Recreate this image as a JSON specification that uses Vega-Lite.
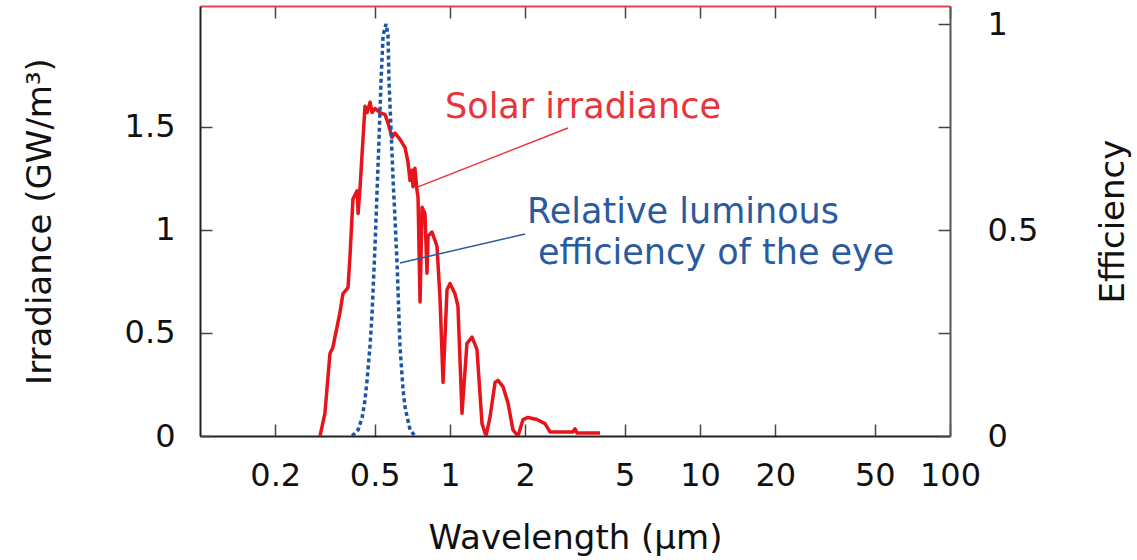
{
  "$schema": "https://vega.github.io/schema/vega-lite/v6.json",
  "width": 750,
  "height": 430,
  "autosize": "none",
  "padding": {"left": 200, "top": 6, "right": 187, "bottom": 124},
  "background": "white",
  "config": {"view": {"stroke": null}, "font": "DejaVu Sans"},
  "datasets": {
    "solar": [
      {"wl": 0.302, "irr": 0}, {"wl": 0.316, "irr": 0.11}, {"wl": 0.331, "irr": 0.40}, {"wl": 0.340, "irr": 0.43},
      {"wl": 0.363, "irr": 0.60}, {"wl": 0.373, "irr": 0.69}, {"wl": 0.391, "irr": 0.72}, {"wl": 0.398, "irr": 0.87},
      {"wl": 0.409, "irr": 1.15}, {"wl": 0.425, "irr": 1.19}, {"wl": 0.429, "irr": 1.08}, {"wl": 0.437, "irr": 1.21},
      {"wl": 0.445, "irr": 1.37}, {"wl": 0.457, "irr": 1.60}, {"wl": 0.466, "irr": 1.57}, {"wl": 0.479, "irr": 1.62},
      {"wl": 0.488, "irr": 1.57}, {"wl": 0.501, "irr": 1.59}, {"wl": 0.525, "irr": 1.57}, {"wl": 0.550, "irr": 1.56},
      {"wl": 0.565, "irr": 1.52}, {"wl": 0.586, "irr": 1.45}, {"wl": 0.603, "irr": 1.47}, {"wl": 0.631, "irr": 1.44},
      {"wl": 0.661, "irr": 1.40}, {"wl": 0.679, "irr": 1.33}, {"wl": 0.692, "irr": 1.24}, {"wl": 0.705, "irr": 1.29},
      {"wl": 0.711, "irr": 1.21}, {"wl": 0.724, "irr": 1.30}, {"wl": 0.738, "irr": 1.19}, {"wl": 0.745, "irr": 1.16},
      {"wl": 0.759, "irr": 0.65}, {"wl": 0.773, "irr": 1.11}, {"wl": 0.794, "irr": 1.08}, {"wl": 0.809, "irr": 0.79},
      {"wl": 0.817, "irr": 0.97}, {"wl": 0.847, "irr": 0.99}, {"wl": 0.871, "irr": 0.95}, {"wl": 0.887, "irr": 0.92},
      {"wl": 0.912, "irr": 0.67}, {"wl": 0.938, "irr": 0.26}, {"wl": 0.973, "irr": 0.71}, {"wl": 1.0, "irr": 0.74},
      {"wl": 1.047, "irr": 0.69}, {"wl": 1.076, "irr": 0.63}, {"wl": 1.117, "irr": 0.11}, {"wl": 1.169, "irr": 0.45},
      {"wl": 1.225, "irr": 0.48}, {"wl": 1.282, "irr": 0.42}, {"wl": 1.343, "irr": 0.06}, {"wl": 1.393, "irr": 0},
      {"wl": 1.445, "irr": 0.09}, {"wl": 1.514, "irr": 0.26}, {"wl": 1.556, "irr": 0.27}, {"wl": 1.629, "irr": 0.24},
      {"wl": 1.706, "irr": 0.16}, {"wl": 1.786, "irr": 0.03}, {"wl": 1.871, "irr": 0}, {"wl": 1.959, "irr": 0.08},
      {"wl": 2.051, "irr": 0.09}, {"wl": 2.228, "irr": 0.08}, {"wl": 2.399, "irr": 0.06}, {"wl": 2.512, "irr": 0.02},
      {"wl": 3.105, "irr": 0.02}, {"wl": 3.162, "irr": 0.035}, {"wl": 3.22, "irr": 0.015}, {"wl": 3.98, "irr": 0.015}
    ],
    "eye": [
      {"wl": 0.406, "eff": 0}, {"wl": 0.429, "eff": 0.015}, {"wl": 0.445, "eff": 0.044}, {"wl": 0.457, "eff": 0.087},
      {"wl": 0.466, "eff": 0.136}, {"wl": 0.479, "eff": 0.221}, {"wl": 0.488, "eff": 0.299}, {"wl": 0.501, "eff": 0.459},
      {"wl": 0.511, "eff": 0.597}, {"wl": 0.520, "eff": 0.718}, {"wl": 0.530, "eff": 0.864}, {"wl": 0.540, "eff": 0.973},
      {"wl": 0.555, "eff": 1.0}, {"wl": 0.565, "eff": 0.973}, {"wl": 0.570, "eff": 0.864}, {"wl": 0.581, "eff": 0.743},
      {"wl": 0.592, "eff": 0.621}, {"wl": 0.603, "eff": 0.524}, {"wl": 0.614, "eff": 0.42}, {"wl": 0.631, "eff": 0.216},
      {"wl": 0.649, "eff": 0.112}, {"wl": 0.661, "eff": 0.07}, {"wl": 0.692, "eff": 0.015}, {"wl": 0.724, "eff": 0}
    ],
    "leaders": [
      {"series": "solar", "wl": 2.965, "irr": 1.495, "wl2": 0.745, "irr2": 1.209},
      {"series": "eye", "wl": 1.995, "irr": 0.98, "wl2": 0.631, "irr2": 0.84}
    ],
    "labels": [
      {"series": "solar", "wl": 0.955, "irr": 1.597, "label": "Solar irradiance"},
      {"series": "eye", "wl": 2.032, "irr": 1.087, "label": "Relative luminous"},
      {"series": "eye", "wl": 2.249, "irr": 0.888, "label": "efficiency of the eye"}
    ]
  },
  "layer": [
    {
      "layer": [
        {
          "data": {"name": "solar"},
          "mark": {"type": "line", "color": "#e8141c", "strokeWidth": 3.5, "strokeJoin": "round", "clip": true},
          "encoding": {
            "x": {
              "field": "wl", "type": "quantitative",
              "scale": {"type": "log", "domain": [0.1, 100], "nice": false},
              "axis": {
                "orient": "bottom", "values": [0.2, 0.5, 1, 2, 5, 10, 20, 50, 100],
                "format": "~g", "grid": false,
                "domainColor": "#222", "domainWidth": 2,
                "tickSize": -12, "tickColor": "#444", "tickWidth": 1.5,
                "labelFontSize": 32, "labelColor": "#111", "labelPadding": 36, "labelFlush": false, "labelOverlap": false,
                "title": "Wavelength (μm)", "titleFontSize": 34, "titleFontWeight": "normal", "titleColor": "#111",
                "titleX": 375, "titleY": 102, "titleAlign": "center", "titleBaseline": "middle"
              }
            },
            "y": {
              "field": "irr", "type": "quantitative",
              "scale": {"domain": [0, 2.087], "nice": false},
              "axis": {
                "orient": "left", "values": [0, 0.5, 1, 1.5], "format": "~g", "grid": false,
                "domainColor": "#222", "domainWidth": 2,
                "tickSize": -12, "tickColor": "#444", "tickWidth": 1.5,
                "labelFontSize": 32, "labelColor": "#111", "labelPadding": 37, "labelFlush": false, "labelOverlap": false,
                "title": "Irradiance (GW/m³)", "titleFontSize": 34, "titleFontWeight": "normal", "titleColor": "#111",
                "titleAngle": -90, "titleX": -160, "titleY": 215, "titleAlign": "center", "titleBaseline": "middle"
              }
            }
          }
        },
        {
          "data": {"name": "leaders"},
          "mark": {"type": "rule", "strokeWidth": 1.5},
          "encoding": {
            "x": {"field": "wl", "type": "quantitative", "scale": {"type": "log", "domain": [0.1, 100], "nice": false}},
            "x2": {"field": "wl2"},
            "y": {"field": "irr", "type": "quantitative", "scale": {"domain": [0, 2.087], "nice": false}},
            "y2": {"field": "irr2"},
            "color": {"field": "series", "type": "nominal", "scale": {"domain": ["solar", "eye"], "range": ["#e8343a", "#2a5aa0"]}, "legend": null}
          }
        },
        {
          "data": {"name": "labels"},
          "mark": {"type": "text", "align": "left", "baseline": "middle", "fontSize": 35, "font": "DejaVu Sans"},
          "encoding": {
            "x": {"field": "wl", "type": "quantitative", "scale": {"type": "log", "domain": [0.1, 100], "nice": false}},
            "y": {"field": "irr", "type": "quantitative", "scale": {"domain": [0, 2.087], "nice": false}},
            "text": {"field": "label"},
            "color": {"field": "series", "type": "nominal", "scale": {"domain": ["solar", "eye"], "range": ["#e8141c", "#1f5aa6"]}, "legend": null}
          }
        }
      ]
    },
    {
      "data": {"name": "eye"},
      "mark": {"type": "line", "color": "#1a56a8", "strokeWidth": 3.5, "strokeDash": [4, 3], "clip": true},
      "encoding": {
        "x": {
          "field": "wl", "type": "quantitative",
          "scale": {"type": "log", "domain": [0.1, 100], "nice": false},
          "axis": {
            "orient": "top", "values": [0.2, 0.5, 1, 2, 5, 10, 20, 50, 100], "labels": false, "title": null, "grid": false,
            "domainColor": "#e84050", "domainWidth": 2,
            "tickSize": -12, "tickColor": "#444", "tickWidth": 1.5
          }
        },
        "y": {
          "field": "eff", "type": "quantitative",
          "scale": {"domain": [0, 1.0437], "nice": false},
          "axis": {
            "orient": "right", "values": [0, 0.25, 0.5, 0.75, 1], "grid": false,
            "labelExpr": "datum.value == 0.25 || datum.value == 0.75 ? '' : format(datum.value, '~g')",
            "domainColor": "#555", "domainWidth": 2,
            "tickSize": -12, "tickColor": "#444", "tickWidth": 1.5,
            "labelFontSize": 32, "labelColor": "#111", "labelPadding": 49, "labelFlush": false, "labelOverlap": false,
            "title": "Efficiency", "titleFontSize": 34, "titleFontWeight": "normal", "titleColor": "#111",
            "titleAngle": -90, "titleX": 163, "titleY": 215, "titleAlign": "center", "titleBaseline": "middle"
          }
        }
      }
    }
  ],
  "resolve": {"scale": {"y": "independent"}, "axis": {"x": "independent"}}
}
